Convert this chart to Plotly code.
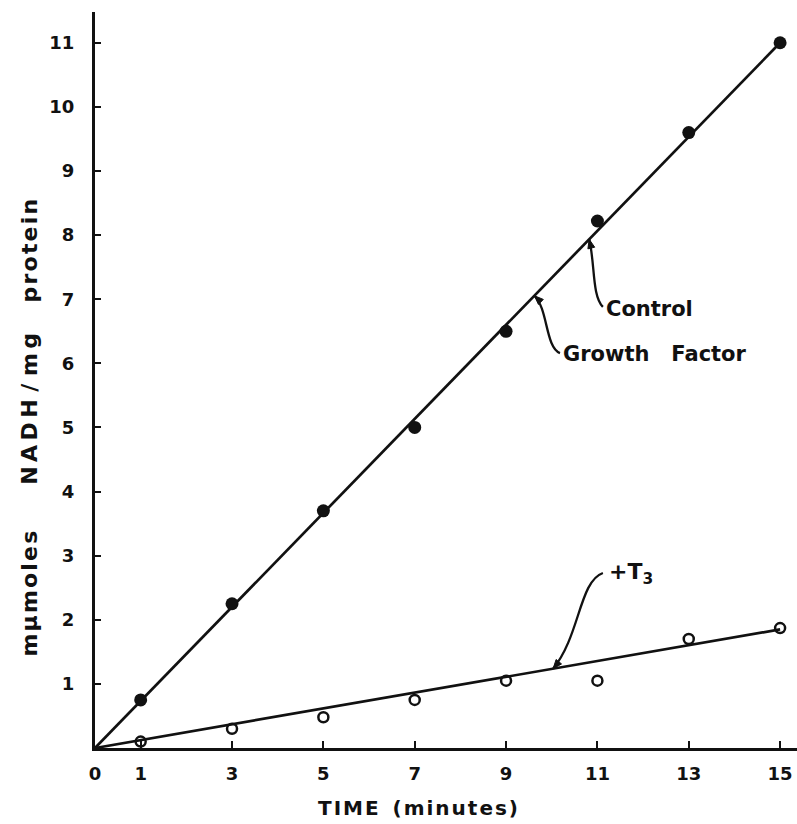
import math
import plotly.graph_objects as go

# NADH oxidation over time (mμmoles NADH per mg protein)
time_min = [1, 3, 5, 7, 9, 11, 13, 15]
control_growth = [0.75, 2.25, 3.7, 5.0, 6.5, 8.22, 9.6, 11.0]
plus_t3 = [0.1, 0.3, 0.48, 0.75, 1.05, 1.05, 1.7, 1.87]

# fitted lines through the origin
fit_x = [0, 15]
control_fit = [0, 11.0]
t3_fit = [0, 1.85]

x_ticks = [0, 1, 3, 5, 7, 9, 11, 13, 15]
y_ticks = list(range(1, 12))

X_RANGE = [0, 15.37]
Y_RANGE = [0, 11.48]
W, H = 797, 824
MARGIN = dict(l=95, r=0, t=12, b=76)
PX_X = (W - MARGIN["l"] - MARGIN["r"]) / (X_RANGE[1] - X_RANGE[0])
PX_Y = (H - MARGIN["t"] - MARGIN["b"]) / (Y_RANGE[1] - Y_RANGE[0])

FONT = "DejaVu Sans"
INK = "#111111"
THIN = "\u2009"
HAIR = "\u200a"
NB = "\u00a0"


def spaced(words, gap=HAIR, word_gap=NB * 3):
    """Open up letter spacing to mimic stencil lettering."""
    return word_gap.join(gap.join(w) for w in words)


def on_line(fit, x):
    return fit[1] * x / fit_x[1]


fig = go.Figure()

fig.add_trace(go.Scatter(x=fit_x, y=control_fit, mode="lines",
                         line=dict(color=INK, width=2.7), cliponaxis=False,
                         showlegend=False, hoverinfo="skip"))
fig.add_trace(go.Scatter(x=fit_x, y=t3_fit, mode="lines",
                         line=dict(color=INK, width=2.7), cliponaxis=False,
                         showlegend=False, hoverinfo="skip"))
fig.add_trace(go.Scatter(x=time_min, y=control_growth, mode="markers",
                         marker=dict(symbol="circle", size=13, color=INK),
                         cliponaxis=False, name="Control / Growth Factor",
                         showlegend=False))
fig.add_trace(go.Scatter(x=time_min, y=plus_t3, mode="markers",
                         marker=dict(symbol="circle-open", size=10, color=INK,
                                     line=dict(width=2.5)),
                         cliponaxis=False, name="+T3", showlegend=False))

# curved leaders from each label to its line
leaders = [
    # (label start, control pt 1, control pt 2, tip x on line, fit)
    ((11.12, 6.88), (10.88, 7.05), (10.95, 7.55), 10.82, control_fit),
    ((10.18, 6.16), (9.86, 6.25), (9.92, 6.85), 9.62, control_fit),
    ((11.12, 2.73), (10.60, 2.60), (10.62, 1.75), 10.03, t3_fit),
]
for (sx, sy), (c1x, c1y), (c2x, c2y), tx, fit in leaders:
    ty = on_line(fit, tx)
    fig.add_shape(type="path",
                  path=f"M {sx},{sy} C {c1x},{c1y} {c2x},{c2y} {tx},{ty}",
                  xref="x", yref="y", line=dict(color=INK, width=2.3))
    # small filled arrowhead, built in pixel space then mapped back
    dx, dy = (c2x - tx) * PX_X, (c2y - ty) * PX_Y
    n = math.hypot(dx, dy)
    ux, uy = dx / n, dy / n
    L, Wd = 9, 3.5
    bx, by = ux * L, uy * L
    p1 = (tx + (bx - uy * Wd) / PX_X, ty + (by + ux * Wd) / PX_Y)
    p2 = (tx + (bx + uy * Wd) / PX_X, ty + (by - ux * Wd) / PX_Y)
    fig.add_shape(type="path",
                  path=f"M {tx},{ty} L {p1[0]},{p1[1]} L {p2[0]},{p2[1]} Z",
                  xref="x", yref="y", fillcolor=INK,
                  line=dict(color=INK, width=1))

label_font = dict(family=FONT, size=21, color=INK, weight="bold")
fig.add_annotation(x=11.15, y=6.85, xref="x", yref="y", text="Control",
                   showarrow=False, xanchor="left", yanchor="middle",
                   font=label_font)
fig.add_annotation(x=10.2, y=6.15, xref="x", yref="y",
                   text="Growth" + NB * 3 + "Factor",
                   showarrow=False, xanchor="left", yanchor="middle",
                   font=label_font)
fig.add_annotation(x=11.2, y=2.72, xref="x", yref="y",
                   text="+T<sub>3</sub>",
                   showarrow=False, xanchor="left", yanchor="middle",
                   font=dict(family=FONT, size=22, color=INK, weight="bold"))

# axis titles
y_title = (spaced(["mμmoles"]) + NB * 6
           + spaced(["NADH"], gap=THIN) + NB + "/" + NB
           + spaced(["mg"], gap=THIN) + NB * 4
           + spaced(["protein"]))
fig.add_annotation(x=-0.093, y=0.435, xref="paper", yref="paper",
                   text=y_title, textangle=-90,
                   showarrow=False, xanchor="center", yanchor="middle",
                   font=dict(family=FONT, size=22, color=INK, weight="bold"))
fig.add_annotation(x=0.46, y=-0.082, xref="paper", yref="paper",
                   text=spaced(["TIME", "(minutes)"], word_gap=NB * 2),
                   showarrow=False, xanchor="center", yanchor="middle",
                   font=dict(family=FONT, size=20, color=INK, weight="bold"))

tick_font = dict(family=FONT, size=18, color=INK, weight="bold")
fig.update_xaxes(range=X_RANGE, tickvals=x_ticks,
                 ticktext=[str(v) for v in x_ticks],
                 showline=True, linecolor=INK, linewidth=2.6,
                 ticks="inside", ticklen=7, tickwidth=2.2, tickcolor=INK,
                 showgrid=False, zeroline=False, tickfont=tick_font,
                 ticklabelstandoff=8)
fig.update_yaxes(range=Y_RANGE, tickvals=y_ticks,
                 ticktext=[str(v) for v in y_ticks],
                 showline=True, linecolor=INK, linewidth=3,
                 ticks="inside", ticklen=6, tickwidth=2.2, tickcolor=INK,
                 showgrid=False, zeroline=False, tickfont=tick_font,
                 ticklabelstandoff=14)

fig.update_layout(width=W, height=H, margin=MARGIN,
                  plot_bgcolor="white", paper_bgcolor="white",
                  font=dict(family=FONT, color=INK))

fig.write_html("out.html")
